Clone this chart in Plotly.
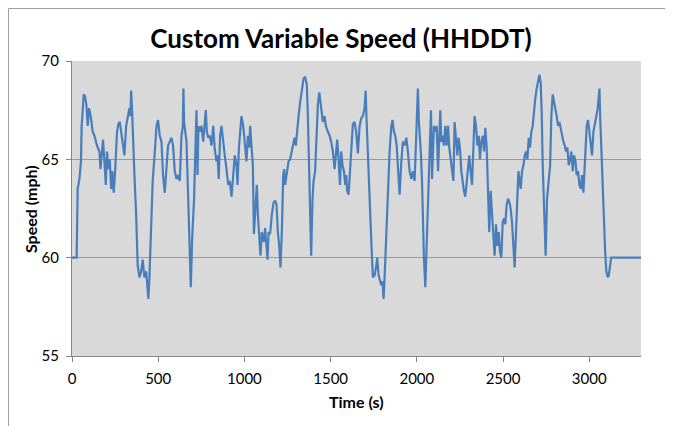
import plotly.graph_objects as go

# Data
time_s = [0, 27, 33, 43, 52, 56, 68, 76, 83, 91, 99, 110, 120, 130, 145, 159, 165, 172, 180, 188,
          196, 203, 211, 219, 227, 234, 242, 250, 261, 269, 277, 285, 294, 304, 314, 323, 333, 339, 343, 348,
          354, 362, 372, 381, 391, 401, 410, 420, 430, 436, 443, 449, 459, 468, 482, 490, 499, 509, 519, 528,
          538, 548, 557, 567, 577, 586, 596, 606, 615, 625, 635, 643, 646, 650, 658, 664, 674, 681, 689, 697,
          708, 716, 722, 728, 733, 741, 751, 761, 770, 776, 782, 790, 799, 809, 819, 828, 838, 844, 851, 859,
          867, 877, 886, 896, 906, 915, 925, 935, 944, 954, 960, 968, 975, 983, 993, 1002, 1012, 1020, 1028, 1033,
          1043, 1049, 1055, 1062, 1072, 1078, 1086, 1093, 1101, 1107, 1113, 1120, 1128, 1134, 1140, 1149, 1159, 1169, 1178, 1186,
          1194, 1202, 1209, 1217, 1225, 1231, 1236, 1246, 1256, 1265, 1275, 1285, 1291, 1298, 1304, 1314, 1323, 1333, 1343, 1352,
          1362, 1368, 1376, 1381, 1387, 1395, 1401, 1410, 1420, 1426, 1434, 1441, 1449, 1455, 1465, 1472, 1484, 1494, 1503, 1513,
          1523, 1532, 1538, 1546, 1554, 1561, 1569, 1577, 1585, 1590, 1596, 1604, 1612, 1619, 1629, 1639, 1648, 1658, 1668, 1678,
          1687, 1697, 1703, 1708, 1716, 1726, 1736, 1745, 1755, 1765, 1770, 1778, 1786, 1794, 1801, 1807, 1813, 1823, 1832, 1842,
          1852, 1859, 1867, 1875, 1883, 1890, 1900, 1910, 1919, 1929, 1939, 1948, 1958, 1968, 1977, 1987, 1993, 2001, 2006, 2012,
          2018, 2024, 2030, 2035, 2041, 2049, 2057, 2065, 2072, 2076, 2082, 2088, 2094, 2099, 2107, 2115, 2123, 2130, 2136, 2142,
          2150, 2157, 2165, 2173, 2181, 2188, 2196, 2204, 2212, 2219, 2227, 2235, 2242, 2250, 2258, 2266, 2273, 2281, 2289, 2297,
          2304, 2312, 2320, 2328, 2335, 2343, 2351, 2359, 2366, 2374, 2382, 2390, 2397, 2405, 2413, 2420, 2428, 2436, 2444, 2451,
          2459, 2467, 2475, 2482, 2490, 2498, 2506, 2513, 2521, 2529, 2537, 2544, 2552, 2560, 2567, 2575, 2583, 2589, 2595, 2602,
          2610, 2618, 2626, 2633, 2641, 2649, 2656, 2664, 2672, 2680, 2687, 2695, 2705, 2711, 2718, 2724, 2730, 2738, 2747, 2755,
          2763, 2773, 2780, 2788, 2796, 2803, 2811, 2819, 2827, 2834, 2842, 2850, 2858, 2865, 2873, 2881, 2889, 2896, 2904, 2912,
          2920, 2927, 2935, 2943, 2951, 2958, 2966, 2974, 2985, 2993, 3001, 3009, 3016, 3024, 3034, 3041, 3049, 3055, 3059, 3063,
          3069, 3076, 3084, 3092, 3099, 3107, 3113, 3119, 3127, 3130, 3300]

speed_mph = [60.0, 60.0, 63.5, 64.0, 64.9, 66.7, 68.3, 68.2, 67.8, 66.7, 67.6, 67.1, 66.4, 66.2, 65.7, 65.4, 64.5, 65.4, 66.0, 64.9,
             63.7, 65.4, 64.5, 65.0, 63.5, 64.4, 63.3, 64.4, 66.4, 66.8, 66.9, 66.4, 65.7, 65.2, 66.7, 67.1, 67.6, 67.2, 68.5, 67.6,
             65.9, 64.2, 62.2, 59.6, 59.0, 59.3, 59.9, 59.0, 59.3, 58.6, 57.9, 59.0, 61.3, 63.9, 65.6, 66.7, 67.0, 66.2, 65.9, 64.2,
             63.3, 64.7, 65.7, 65.9, 66.1, 65.7, 64.4, 64.0, 64.2, 63.9, 66.2, 66.7, 68.6, 66.9, 66.2, 65.9, 63.0, 60.5, 58.5, 61.0,
             63.0, 65.6, 67.5, 64.2, 66.7, 66.4, 66.7, 65.9, 66.7, 67.5, 66.4, 66.1, 66.2, 65.7, 66.7, 65.5, 64.9, 65.2, 64.0, 66.2,
             66.7, 65.7, 65.2, 64.5, 63.7, 63.9, 63.1, 64.2, 65.2, 64.7, 63.7, 65.6, 66.4, 67.2, 66.7, 65.6, 64.9, 66.2, 65.6, 66.7,
             65.7, 64.7, 61.2, 62.2, 63.7, 62.2, 60.8, 60.1, 61.3, 61.0, 60.8, 61.5, 60.3, 59.9, 61.3, 61.2, 62.2, 62.8, 62.9, 62.7,
             61.3, 60.6, 59.5, 61.3, 64.2, 64.5, 63.7, 64.4, 64.9, 65.0, 65.4, 65.9, 66.1, 65.7, 66.4, 67.2, 67.9, 68.4, 69.1, 69.2,
             68.8, 67.2, 63.9, 62.2, 60.1, 63.0, 63.9, 64.4, 66.9, 67.8, 68.4, 67.9, 67.6, 66.9, 67.2, 66.7, 66.4, 66.2, 65.9, 65.4,
             64.5, 65.4, 66.0, 65.0, 63.7, 65.4, 64.7, 64.4, 63.7, 64.2, 63.4, 63.2, 64.4, 65.6, 66.8, 66.9, 66.4, 65.3, 66.7, 67.1,
             67.2, 67.6, 68.5, 67.1, 65.0, 62.7, 60.8, 59.0, 59.1, 59.6, 60.0, 59.1, 58.8, 58.6, 58.8, 57.9, 59.0, 61.3, 63.4, 65.4,
             66.7, 67.0, 66.4, 66.2, 65.7, 64.4, 63.2, 64.9, 65.9, 65.7, 66.1, 65.4, 64.4, 64.0, 64.4, 63.9, 65.6, 67.1, 68.6, 66.9,
             66.2, 65.2, 63.9, 61.7, 60.0, 58.5, 60.8, 63.0, 64.4, 65.9, 67.5, 64.0, 66.1, 66.7, 66.4, 66.7, 64.4, 66.6, 67.5, 65.9,
             66.2, 65.7, 66.7, 65.7, 66.7, 65.6, 65.0, 64.7, 63.9, 66.9, 66.1, 65.2, 66.1, 65.6, 64.4, 63.7, 63.4, 63.1, 64.0, 64.9,
             65.2, 64.4, 63.7, 65.6, 67.2, 66.7, 65.7, 66.2, 65.0, 65.9, 66.2, 65.4, 66.6, 65.6, 63.0, 61.3, 63.4, 62.2, 61.0, 60.1,
             61.7, 60.6, 61.3, 60.3, 60.0, 61.8, 62.0, 61.7, 62.7, 63.0, 62.8, 62.5, 61.8, 60.8, 59.5, 61.3, 63.7, 64.4, 64.0, 63.5,
             64.4, 64.7, 65.2, 65.4, 65.0, 66.1, 65.6, 66.4, 66.7, 67.6, 68.1, 68.6, 69.1, 69.3, 68.9, 67.4, 64.7, 62.2, 60.1, 63.0,
             63.7, 64.7, 67.2, 68.3, 67.9, 67.6, 67.2, 66.7, 66.9, 66.6, 66.2, 65.9, 65.7, 65.4, 65.6, 64.7, 65.0, 65.4, 64.4, 65.2,
             64.9, 64.2, 64.4, 63.7, 63.5, 64.2, 63.3, 65.0, 66.7, 67.0, 66.4, 65.7, 65.2, 66.4, 67.0, 67.2, 67.6, 68.1, 68.6, 67.2,
             65.6, 63.9, 62.0, 60.3, 59.3, 59.0, 59.1, 59.6, 60.0, 60.0, 60.0]

x_ticks = [0, 500, 1000, 1500, 2000, 2500, 3000]
y_ticks = [55, 60, 65, 70]

title_text = "Custom Variable Speed (HHDDT)"
x_title = "Time (s)"
y_title = "Speed (mph)"

# The page body adds an 8px offset; the figure is sized/positioned to compensate.
OFF = 8
W, H = 673 - OFF, 426 - OFF
L, R, T, B = 72 - OFF, 32, 61 - OFF, 70
pw, ph = W - L - R, H - T - B


def px_x(page_x):
    return (page_x - OFF - L) / pw


def px_y(page_y):
    return (H - B - (page_y - OFF)) / ph


fig = go.Figure()
fig.add_trace(go.Scatter(x=time_s, y=speed_mph, mode="lines",
                         line=dict(color="#4A7EBB", width=2.2), showlegend=False,
                         hoverinfo="x+y"))

font_family = "Lato, 'Open Sans', sans-serif"

fig.update_layout(
    width=W, height=H,
    margin=dict(l=L, r=R, t=T, b=B),
    paper_bgcolor="white",
    plot_bgcolor="#D9D9D9",
    font=dict(family=font_family, size=15, color="#000000"),
    title=dict(text="<b>" + title_text + "</b>", x=(341 - OFF) / W, xref="container", xanchor="center",
               y=1 - (39 - OFF) / H, yref="container", yanchor="middle",
               font=dict(family=font_family, size=26, color="#000000")),
    xaxis=dict(range=[0, 3300], tickvals=x_ticks, ticktext=[str(v) for v in x_ticks],
               showgrid=False, zeroline=False, showline=True, linecolor="#868686", linewidth=1,
               ticks="outside", ticklen=5, tickcolor="#868686", ticklabelstandoff=4,
               tickfont=dict(size=15)),
    yaxis=dict(range=[55, 70], tickvals=y_ticks, ticktext=[str(v) for v in y_ticks],
               showgrid=True, gridcolor="#9A9A9A", gridwidth=1, zeroline=False,
               showline=True, linecolor="#868686", linewidth=1,
               ticks="outside", ticklen=5, tickcolor="#868686", ticklabelstandoff=4,
               tickfont=dict(size=15)),
)

# axis titles
fig.add_annotation(text="<b>" + x_title + "</b>", xref="paper", yref="paper",
                   x=px_x(356), y=px_y(401), xanchor="center", yanchor="middle",
                   showarrow=False, font=dict(size=16))
fig.add_annotation(text="<b>" + y_title + "</b>", xref="paper", yref="paper",
                   x=px_x(30), y=px_y(209), xanchor="center", yanchor="middle",
                   textangle=-90, showarrow=False, font=dict(size=16))

# outer chart frame (top and right edges visible inside the figure)
fig.add_shape(type="rect", xref="paper", yref="paper",
              x0=px_x(8.5), x1=px_x(669),
              y0=px_y(440), y1=px_y(8.5),
              line=dict(color="#A0A0A0", width=1), fillcolor="rgba(0,0,0,0)", layer="below")

fig.write_html("out.html")
